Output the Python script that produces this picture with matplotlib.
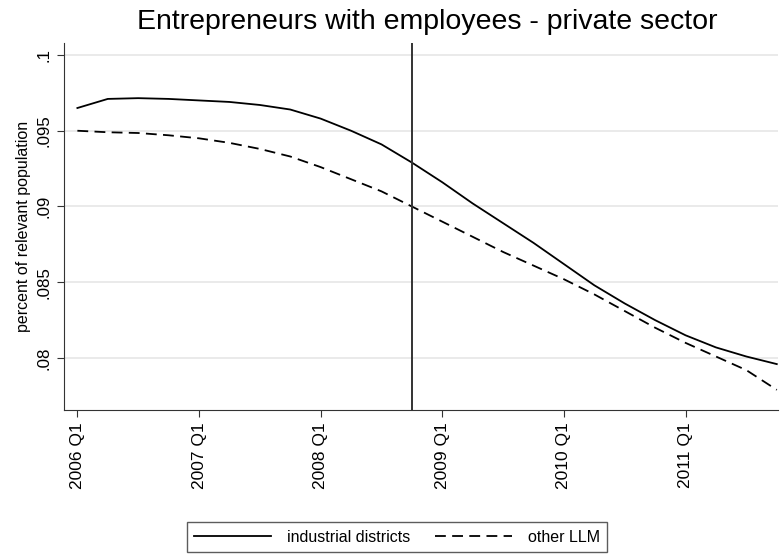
import matplotlib
matplotlib.use("Agg")
import matplotlib.pyplot as plt

plt.rcParams['font.family'] = ['Liberation Sans', 'DejaVu Sans']

# quarterly series, 2006 Q1 .. 2011 Q4
quarter_idx = list(range(24))
industrial = [0.0965, 0.0971, 0.09715, 0.0971, 0.0970, 0.0969, 0.0967, 0.0964,
              0.0958, 0.0950, 0.0941, 0.0929, 0.0916, 0.0902, 0.0889, 0.0876,
              0.0862, 0.0848, 0.0836, 0.0825, 0.0815, 0.0807, 0.0801, 0.0796]
other_llm = [0.0950, 0.0949, 0.09485, 0.0947, 0.0945, 0.0942, 0.0938, 0.0933,
             0.0926, 0.0918, 0.0910, 0.0900, 0.0890, 0.0880, 0.0870, 0.0861,
             0.0852, 0.0842, 0.0831, 0.0820, 0.0810, 0.0801, 0.0792, 0.0779]
xtick_pos = [0, 4, 8, 12, 16, 20]
xtick_labels = ['2006 Q1', '2007 Q1', '2008 Q1', '2009 Q1', '2010 Q1', '2011 Q1']
ytick_pos = [0.08, 0.085, 0.09, 0.095, 0.1]
ytick_labels = ['.08', '.085', '.09', '.095', '.1']
crisis_q = 11  # 2008 Q4

fig = plt.figure(figsize=(7.8, 5.57), dpi=100)
ax = fig.add_axes([64/780, 1 - 410/557, (778-64)/780, (410-43)/557])

ax.plot(quarter_idx, industrial, color='black', lw=1.3, label='industrial districts')
ax.plot(quarter_idx, other_llm, color='black', lw=1.3, ls=(0, (6, 3.5)), label='other LLM')
ax.axvline(crisis_q, color='#333333', lw=1.4)

ax.set_xlim(-0.44, 23.04)
ax.set_ylim(0.07657, 0.10079)
ax.set_xticks(xtick_pos)
ax.set_xticklabels(xtick_labels, rotation=90, fontsize=12.5)
ax.set_yticks(ytick_pos)
ax.set_yticklabels(ytick_labels, rotation=90, fontsize=12.2, va='center')
ax.yaxis.grid(True, color='#e6e6e6', lw=1.2)
ax.set_axisbelow(True)
for s in ['top', 'right']:
    ax.spines[s].set_visible(False)
for s in ['left', 'bottom']:
    ax.spines[s].set_color('#333333')
ax.tick_params(direction='out', length=5, color='#333333', pad=4)
ax.set_ylabel('percent of relevant population', fontsize=11.5, labelpad=4)

fig.text(427/780, 1 - 22/557, 'Entrepreneurs with employees - private sector',
         ha='center', va='center', fontsize=20.5)

leg = fig.legend(loc='center', bbox_to_anchor=(397/780, 1 - 537/557), ncol=2,
                 frameon=True, fancybox=False, fontsize=11.5, handlelength=4.8,
                 handletextpad=1.0, columnspacing=1.6, borderpad=0.45)
leg.get_frame().set_edgecolor('#333333')
leg.get_frame().set_linewidth(1.0)

fig.savefig('out.png', dpi=100)
